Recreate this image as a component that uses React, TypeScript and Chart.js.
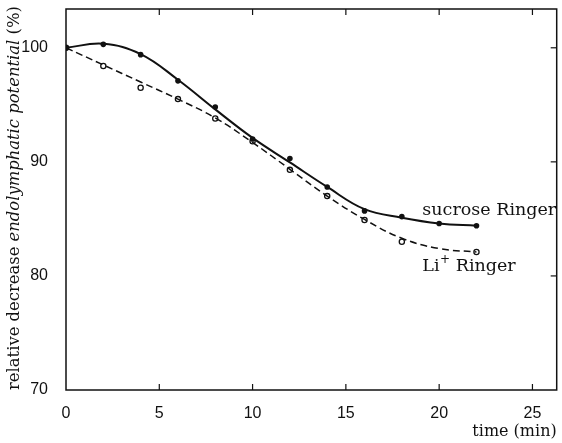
import React, { useEffect, useRef } from "react";
import { Chart, registerables } from "chart.js";

Chart.register(...registerables);

// ---- data ----
const timeMin = [0, 2, 4, 6, 8, 10, 12, 14, 16, 18, 20, 22];
const sucroseRinger = [100, 100.3, 99.4, 97.1, 94.8, 92.0, 90.3, 87.8, 85.7, 85.2, 84.6, 84.4];
// solid fitted curve for sucrose Ringer (as drawn)
const sucroseCurve = [100, 100.35, 99.45, 97.2, 94.6, 92.1, 89.95, 87.8, 85.85, 85.1, 84.6, 84.4];

const liTime = [0, 2, 4, 6, 8, 10, 12, 14, 16, 18, 22];
const liRinger = [100, 98.4, 96.5, 95.5, 93.8, 91.8, 89.3, 87.0, 84.9, 83.0, 82.1];

// dashed fitted curve for Li+ Ringer (as drawn)
const liCurveTime = [0, 2, 4, 6, 8, 10, 12, 14, 16, 18, 20, 22];
const liCurve = [100, 98.5, 97.0, 95.5, 93.85, 91.7, 89.35, 87.0, 84.95, 83.3, 82.4, 82.1];

const xTicks = [0, 5, 10, 15, 20, 25];
const yTicks = [70, 80, 90, 100];
const xRange = [0, 26.3];
const yRange = [70, 103.4];

// curve labels (anchor in data units)
const labelX = [19.1, 19.1];
const labelY = [85.7, 80.8];

const INK = "#111";
const SERIF = "'DejaVu Serif', 'Liberation Serif', serif";
const NARROW = "'Liberation Sans Narrow', 'Liberation Sans', sans-serif";

const framePlugin = {
  id: "frame",
  afterDraw(chart: any) {
    const { ctx, chartArea: a } = chart;
    const xs = chart.scales.x;
    const ys = chart.scales.y;
    ctx.save();
    ctx.strokeStyle = INK;
    ctx.lineWidth = 1.5;
    ctx.strokeRect(a.left, a.top, a.right - a.left, a.bottom - a.top);
    ctx.lineWidth = 1.2;
    xs.ticks.forEach((t: any) => {
      if (t.value <= xs.min) return;
      const px = xs.getPixelForValue(t.value);
      ctx.beginPath();
      ctx.moveTo(px, a.bottom);
      ctx.lineTo(px, a.bottom - 6);
      ctx.moveTo(px, a.top);
      ctx.lineTo(px, a.top + 6);
      ctx.stroke();
    });
    ys.ticks.forEach((t: any) => {
      if (t.value <= ys.min) return;
      const py = ys.getPixelForValue(t.value);
      ctx.beginPath();
      ctx.moveTo(a.right, py);
      ctx.lineTo(a.right - 6, py);
      ctx.stroke();
    });

    // y-axis title with italic middle part
    const parts = [
      { t: "relative decrease ", f: `16.4px ${SERIF}` },
      { t: "endolymphatic potential", f: `italic 16.4px ${SERIF}` },
      { t: " (%)", f: `16.4px ${SERIF}` },
    ];
    ctx.translate(15, a.bottom);
    ctx.rotate(-Math.PI / 2);
    ctx.fillStyle = INK;
    ctx.textBaseline = "middle";
    ctx.textAlign = "left";
    let off = 0;
    parts.forEach((p) => {
      ctx.font = p.f;
      ctx.fillText(p.t, off, 0);
      off += ctx.measureText(p.t).width;
    });
    ctx.restore();

    // curve labels
    ctx.save();
    ctx.fillStyle = INK;
    ctx.textBaseline = "middle";
    ctx.textAlign = "left";
    const f = `17.5px ${SERIF}`;
    ctx.font = f;
    let x0 = xs.getPixelForValue(labelX[0]);
    let y0 = ys.getPixelForValue(labelY[0]);
    ctx.fillText("sucrose Ringer", x0, y0);
    x0 = xs.getPixelForValue(labelX[1]);
    y0 = ys.getPixelForValue(labelY[1]);
    ctx.fillText("Li", x0, y0);
    let w = ctx.measureText("Li").width;
    ctx.font = `12px ${SERIF}`;
    ctx.fillText("+", x0 + w + 0.5, y0 - 7);
    w += ctx.measureText("+").width + 0.5;
    ctx.font = f;
    ctx.fillText(" Ringer", x0 + w, y0);
    ctx.restore();
  },
};

export default function App() {
  const ref = useRef<HTMLCanvasElement>(null);
  useEffect(() => {
    const canvas = ref.current!;
    const chart = new Chart(canvas, {
      type: "line",
      data: {
        datasets: [
          {
            label: "sucrose Ringer curve",
            data: timeMin.map((x, i) => ({ x, y: sucroseCurve[i] })),
            borderColor: INK,
            borderWidth: 2,
            pointRadius: 0,
            tension: 0.4,
            fill: false,
          },
          {
            label: "sucrose Ringer",
            data: timeMin.map((x, i) => ({ x, y: sucroseRinger[i] })),
            showLine: false,
            pointRadius: 2.8,
            pointBorderWidth: 0,
            pointBackgroundColor: INK,
          },
          {
            label: "Li+ Ringer curve",
            data: liCurveTime.map((x, i) => ({ x, y: liCurve[i] })),
            borderColor: INK,
            borderWidth: 1.5,
            borderDash: [7, 4],
            pointRadius: 0,
            tension: 0.4,
            fill: false,
          },
          {
            label: "Li+ Ringer",
            data: liTime.map((x, i) => ({ x, y: liRinger[i] })),
            showLine: false,
            pointRadius: 2.6,
            pointBorderWidth: 1.3,
            pointBorderColor: INK,
            pointBackgroundColor: "#fff",
          },
        ],
      },
      options: {
        animation: false,
        responsive: false,
        layout: { padding: { top: 9, right: 5, left: 0, bottom: 0 } },
        plugins: {
          legend: { display: false },
          tooltip: { enabled: false },
        },
        scales: {
          x: {
            type: "linear",
            min: xRange[0],
            max: xRange[1],
            afterFit: (s: any) => {
              s.height = 53;
              s.paddingLeft = 0;
              s.paddingRight = 0;
            },
            afterBuildTicks: (s: any) => {
              s.ticks = xTicks.map((v) => ({ value: v }));
            },
            ticks: {
              padding: 6,
              color: INK,
              font: { family: NARROW, size: 16 },
              maxRotation: 0,
              callback: (v: any) => String(v),
            },
            grid: { display: false },
            border: { display: false },
            title: {
              display: true,
              text: "time (min)",
              align: "end",
              color: INK,
              font: { family: SERIF, size: 16 },
              padding: { top: 0, bottom: 2 },
            },
          },
          y: {
            type: "linear",
            min: yRange[0],
            max: yRange[1],
            afterFit: (s: any) => {
              s.width = 66;
              s.paddingTop = 0;
              s.paddingBottom = 0;
            },
            afterBuildTicks: (s: any) => {
              s.ticks = yTicks.map((v) => ({ value: v }));
            },
            ticks: {
              padding: 10,
              color: INK,
              font: { family: NARROW, size: 16 },
              callback: (v: any) => String(v),
            },
            grid: { display: false },
            border: { display: false },
          },
        },
      },
      plugins: [framePlugin],
    } as any);
    return () => chart.destroy();
  }, []);
  return (
    <div style={{ position: "absolute", left: 0, top: 0, width: 562, height: 443, background: "#fff" }}>
      <canvas ref={ref} width={562} height={443} style={{ width: 562, height: 443 }} />
    </div>
  );
}
